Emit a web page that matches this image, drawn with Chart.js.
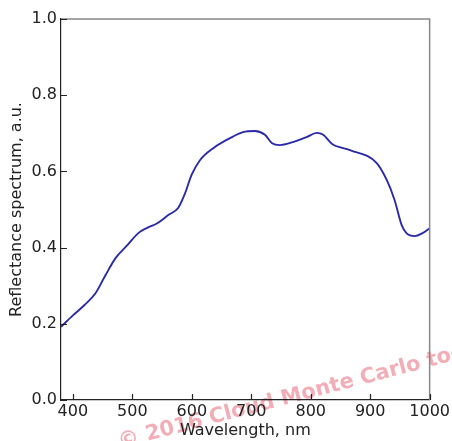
<!DOCTYPE html>
<html>
<head>
<meta charset="utf-8">
<script src="https://cdn.jsdelivr.net/npm/chart.js@4"></script>
<style>
  html, body { margin: 0; padding: 0; background: #fff; }
  #wrap { width: 452px; height: 441px; }
</style>
</head>
<body>
<div id="wrap"><canvas id="spectrum-chart" width="452" height="441"></canvas></div>
<script>
// wavelength (nm) and reflectance
const wavelengths = [380, 400, 420, 438, 455, 472, 492, 510, 525, 542, 561, 577, 588, 600, 614, 636, 665, 686, 706, 723, 735, 748, 770, 793, 810, 821, 836, 866, 911, 928, 941, 953, 961, 975, 988, 1000];
const reflectance = [0.192, 0.222, 0.250, 0.280, 0.328, 0.373, 0.407, 0.438, 0.452, 0.464, 0.486, 0.504, 0.540, 0.592, 0.630, 0.661, 0.688, 0.703, 0.706, 0.696, 0.674, 0.669, 0.677, 0.690, 0.701, 0.696, 0.672, 0.656, 0.622, 0.577, 0.525, 0.459, 0.438, 0.430, 0.438, 0.451];
const xTicks = [400, 500, 600, 700, 800, 900, 1000];
const yTicks = [0, 0.2, 0.4, 0.6, 0.8, 1.0];

const FONT = "'DejaVu Sans', sans-serif";

// watermark under everything, inward ticks + grey top/right spines on top
const framePlugin = {
  id: 'frame',
  beforeDraw(chart) {
    const ctx = chart.ctx;
    ctx.save();
    ctx.translate(120, 448);
    ctx.rotate(-0.257);
    ctx.font = 'bold 21px ' + FONT;
    ctx.fillStyle = 'rgba(225, 60, 80, 0.42)';
    ctx.fillText('\u00a9 2016 Cloud Monte Carlo tool', 0, 0);
    ctx.restore();
  },
  afterDraw(chart) {
    const ctx = chart.ctx;
    const area = chart.chartArea;
    const xs = chart.scales.x, ys = chart.scales.y;
    ctx.save();
    ctx.strokeStyle = '#888';
    ctx.lineWidth = 1.5;
    ctx.beginPath();
    ctx.moveTo(area.left, area.top);
    ctx.lineTo(area.right, area.top);
    ctx.lineTo(area.right, area.bottom);
    ctx.stroke();

    ctx.strokeStyle = '#222';
    ctx.lineWidth = 1.2;
    ctx.beginPath();
    xTicks.forEach(v => {
      const px = Math.round(xs.getPixelForValue(v)) + 0.5;
      ctx.moveTo(px, area.bottom);
      ctx.lineTo(px, area.bottom - 6);
    });
    yTicks.forEach(v => {
      const py = Math.round(ys.getPixelForValue(v)) + 0.5;
      ctx.moveTo(area.left, py);
      ctx.lineTo(area.left + 6, py);
    });
    ctx.stroke();
    ctx.restore();
  }
};

const ctx = document.getElementById('spectrum-chart').getContext('2d');
new Chart(ctx, {
  type: 'line',
  data: {
    datasets: [{
      data: wavelengths.map((w, i) => ({ x: w, y: reflectance[i] })),
      borderColor: '#2a2aa8',
      borderWidth: 1.9,
      pointRadius: 0,
      fill: false,
      cubicInterpolationMode: 'monotone'
    }]
  },
  options: {
    responsive: false,
    animation: false,
    layout: { padding: { top: 19, right: 22, left: 0, bottom: 0 } },
    plugins: {
      legend: { display: false },
      tooltip: { enabled: false }
    },
    scales: {
      x: {
        type: 'linear',
        min: 380,
        max: 1000,
        afterBuildTicks: scale => { scale.ticks = xTicks.map(v => ({ value: v })); },
        afterFit: scale => { scale.height = 41; },
        grid: { display: false, drawTicks: false },
        border: { display: true, color: '#222', width: 1.2 },
        ticks: {
          padding: 2,
          color: '#222',
          font: { family: FONT, size: 16 },
          maxRotation: 0,
          callback: v => String(v)
        },
        title: {
          display: true,
          text: 'Wavelength, nm',
          color: '#222',
          font: { family: FONT, size: 16 },
          padding: { top: 0, bottom: 1 }
        }
      },
      y: {
        min: 0,
        max: 1,
        afterBuildTicks: scale => { scale.ticks = yTicks.map(v => ({ value: v })); },
        afterFit: scale => { scale.width = 61; },
        grid: { display: false, drawTicks: false },
        border: { display: true, color: '#222', width: 1.2 },
        ticks: {
          padding: 4,
          color: '#222',
          font: { family: FONT, size: 16 },
          callback: v => v.toFixed(1)
        },
        title: {
          display: true,
          text: 'Reflectance spectrum, a.u.',
          color: '#222',
          font: { family: FONT, size: 16 },
          padding: { top: 7, bottom: 7 }
        }
      }
    }
  },
  plugins: [framePlugin]
});
</script>
</body>
</html>
